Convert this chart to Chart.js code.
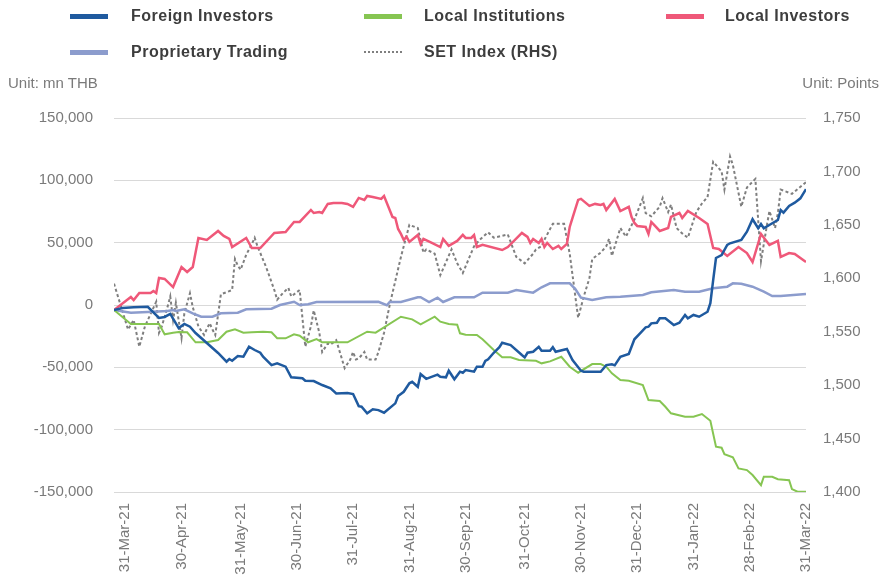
<!DOCTYPE html>
<html>
<head>
<meta charset="utf-8">
<script src="https://cdn.jsdelivr.net/npm/chart.js@4"></script>
<style>
  html, body { margin: 0; padding: 0; background: #ffffff; }
  #wrap { position: relative; width: 891px; height: 585px; overflow: hidden; }
  #c { position: absolute; left: 0; top: 0; }
  .sw { position: absolute; width: 38px; height: 5px; }
  .sw.dot { height: 0; border-top: 2px dotted #7f7f7f; }
  .lt { position: absolute; font-family: "Liberation Sans", Arial, sans-serif; font-weight: bold;
        font-size: 16px; letter-spacing: 0.5px; color: #3d3d3d; line-height: 20px; white-space: nowrap; }
  .unit { position: absolute; font-family: "Liberation Sans", Arial, sans-serif; font-size: 15px;
          color: #7a7a7a; line-height: 18px; white-space: nowrap; }
</style>
</head>
<body>
<div id="wrap">
  <canvas id="c" width="891" height="585"></canvas>
  <div id="legend"></div>
  <div class="unit" style="left:8px; top:74px;">Unit: mn THB</div>
  <div class="unit" style="right:12px; top:74px;">Unit: Points</div>
</div>
<script>
// ---- x axis (trading-day index since 31-Mar-21) and tick labels ----
const tickDays = [4, 24, 45, 65, 85, 105, 125, 146, 166, 186, 206, 226, 246];
const tickLabels = ['31-Mar-21','30-Apr-21','31-May-21','30-Jun-21','31-Jul-21','31-Aug-21',
  '30-Sep-21','31-Oct-21','30-Nov-21','31-Dec-21','31-Jan-22','28-Feb-22','31-Mar-22'];

// ---- Foreign Investors (mn THB, cumulative) ----
const foreignDays = [0,3,7,12,16,18,20,23,25,27,29,33,37,40,41,42,44,46,48,50,52,53,56,58,61,63,67,68,71,74,77,79,83,85,87,88,90,92,94,96,100,101,103,105,106,108,109,111,115,116,118,119,121,123,124,125,128,129,131,132,133,135,137,138,141,145,146,147,149,151,152,155,156,157,161,163,166,167,173,175,177,178,180,183,185,187,189,190,191,193,194,196,199,201,203,204,206,208,211,212,213,214,216,218,219,223,225,227,229,230,231,234,236,237,238,240,242,244,246];
const foreignVals = [-4000,-2400,-1800,-1400,-10400,-9600,-7200,-18500,-15200,-17400,-22500,-30500,-38500,-45500,-43300,-44700,-40900,-41500,-33500,-36100,-38300,-41500,-48200,-46800,-49500,-58000,-58800,-60800,-61000,-64200,-66900,-70900,-70600,-71400,-81100,-81600,-86900,-83700,-84300,-86400,-78900,-73000,-69600,-62800,-61600,-65600,-55400,-59200,-55900,-57500,-58000,-52700,-59600,-53500,-54300,-52200,-53500,-49500,-49500,-44900,-43600,-38300,-33900,-30300,-32100,-40100,-42000,-38300,-37500,-33500,-36700,-36700,-33900,-37500,-35300,-44100,-52700,-53500,-53500,-48200,-47600,-48400,-41500,-39300,-27500,-22700,-17900,-17400,-14700,-14200,-10700,-10700,-16100,-14200,-8000,-10700,-8000,-9400,-5400,1400,20000,37700,40100,48200,49500,52200,58800,68800,61600,65000,61600,65600,68200,76200,74100,79500,82100,85600,92900];

// ---- Local Institutions ----
const instDays = [0,6,16,18,21,23,26,29,33,37,40,43,46,49,53,56,58,61,64,66,69,72,74,80,83,90,93,102,106,109,114,116,119,122,123,125,129,131,135,138,141,144,150,152,155,159,162,165,170,173,175,177,180,183,188,190,194,196,198,203,206,209,212,214,216,217,220,222,225,227,230,231,234,236,240,241,243,246];
const instVals = [-4000,-15200,-15200,-23500,-22200,-21700,-21900,-29900,-29900,-28100,-21400,-19500,-22200,-21900,-21400,-21900,-26700,-26700,-23500,-24600,-29900,-27300,-29900,-29900,-29900,-21400,-22200,-9400,-11500,-15500,-9400,-13400,-15200,-15800,-22700,-23800,-24100,-27500,-36100,-42000,-42000,-44100,-44700,-46800,-45200,-41500,-49500,-54300,-47400,-47400,-49500,-54800,-60200,-60800,-64200,-76200,-77000,-81600,-86900,-89600,-89600,-87500,-92900,-113700,-114500,-119600,-122200,-131100,-132400,-136400,-144500,-137800,-137800,-139700,-140500,-147700,-149800,-149800];

// ---- Local Investors ----
const localDays = [0,6,7,9,13,14,15,16,18,21,24,26,28,30,33,37,39,41,42,47,49,52,57,61,64,66,70,71,73,74,76,78,81,83,85,87,89,90,92,95,96,99,100,101,102,103,104,105,108,109,110,113,116,117,119,122,124,125,127,128,129,131,138,140,145,147,148,149,151,152,153,154,156,158,159,161,162,163,165,166,169,171,173,174,175,178,180,183,184,185,186,189,190,191,192,194,197,198,201,202,204,208,211,213,215,218,222,225,227,230,233,236,237,240,242,246];
const localVals = [-4000,6400,4000,9600,9600,11200,9600,21700,20900,14400,30500,26500,30500,53800,52200,59400,55400,53000,46500,53800,45700,45700,57800,58600,66600,66600,76200,73800,74600,73800,81100,81900,81900,81100,78700,85900,84300,87500,86700,85100,87500,70600,69800,61000,57000,52200,54600,50600,56200,49000,53000,49800,46500,53000,47400,51400,56200,53800,53800,56200,46500,48200,44100,46500,57800,54600,49800,53000,49800,53000,46500,49800,44900,47400,44900,49000,62600,69800,84300,85100,79500,81100,80300,81100,76200,85100,75400,78700,70600,65800,63400,62600,57000,66600,64200,59400,61800,70600,73800,69800,75400,69800,65000,45700,44900,39300,46500,41700,34500,57000,48200,51400,38500,41700,40900,34500];

// ---- Proprietary Trading ----
const propDays = [0,6,12,19,21,22,25,28,31,35,38,44,47,56,59,64,66,69,72,94,97,98,102,108,109,112,115,117,121,128,131,140,143,149,152,155,162,164,166,170,175,180,188,191,199,203,208,213,218,220,223,227,231,234,237,246];
const propVals = [-4000,-6200,-5600,-4800,-4000,-4800,-3500,-6700,-9400,-9400,-6700,-6200,-3500,-3000,0,2600,0,600,2400,2600,-200,2400,2400,6200,6200,2400,5900,2400,6200,6200,9900,9900,12000,9900,14200,17400,17400,12800,5900,4000,6200,6700,8000,10200,12000,10700,10700,13400,14700,17400,17100,14700,10700,7200,7200,8800];

// ---- SET Index (points, right axis) ----
const setDays = [0,5,7,9,11,15,16,17,19,20,21,22,24,25,27,28,30,32,34,35,36,38,42,43,44,45,47,49,50,51,54,57,58,60,62,63,66,68,70,71,73,74,76,77,79,82,84,85,86,87,89,90,93,94,96,98,102,105,108,110,111,114,116,120,122,124,128,130,133,135,140,143,146,149,150,152,153,156,160,162,165,167,169,170,173,175,176,177,180,182,185,188,189,191,194,195,197,198,200,202,204,207,209,211,213,216,217,219,220,223,225,228,230,232,233,235,236,237,241,246];
const setVals = [1595,1552,1561,1536,1555,1578,1549,1555,1573,1583,1561,1577,1544,1567,1586,1573,1555,1547,1558,1552,1547,1585,1589,1618,1612,1608,1622,1632,1638,1630,1611,1589,1580,1586,1591,1583,1589,1536,1555,1570,1549,1531,1539,1538,1542,1516,1524,1531,1524,1525,1531,1524,1524,1531,1549,1575,1620,1650,1647,1624,1627,1623,1603,1627,1614,1605,1630,1636,1643,1638,1641,1620,1614,1623,1627,1630,1636,1651,1651,1623,1563,1583,1600,1618,1624,1630,1637,1621,1647,1639,1655,1675,1661,1658,1667,1675,1662,1669,1647,1642,1638,1662,1670,1676,1709,1700,1683,1714,1706,1667,1685,1693,1616,1648,1663,1647,1661,1683,1679,1690];

const leftTicks = [-150000, -100000, -50000, 0, 50000, 100000, 150000];
const rightTicks = [1400, 1450, 1500, 1550, 1600, 1650, 1700, 1750];

const series = [
  { label: 'Foreign Investors', days: foreignDays, vals: foreignVals, color: '#1f5a9f', width: 2.5, axis: 'y' },
  { label: 'Local Institutions', days: instDays, vals: instVals, color: '#86c552', width: 2, axis: 'y' },
  { label: 'Local Investors', days: localDays, vals: localVals, color: '#ef5879', width: 2.5, axis: 'y' },
  { label: 'Proprietary Trading', days: propDays, vals: propVals, color: '#8c9ccd', width: 2.5, axis: 'y' },
  { label: 'SET Index (RHS)', days: setDays, vals: setVals, color: '#7f7f7f', width: 2, axis: 'y1', dash: [3, 2.5] }
];

// ---- HTML legend ----
const legendPos = [
  { sw: 70, tx: 131, y: 16 }, { sw: 364, tx: 424, y: 16 }, { sw: 666, tx: 725, y: 16 },
  { sw: 70, tx: 131, y: 52 }, { sw: 364, tx: 424, y: 52 }
];
const legend = document.getElementById('legend');
series.forEach((s, i) => {
  const p = legendPos[i];
  const sw = document.createElement('div');
  sw.className = 'sw' + (s.dash ? ' dot' : '');
  sw.style.left = p.sw + 'px';
  if (s.dash) { sw.style.top = (p.y - 1) + 'px'; }
  else { sw.style.top = (p.y - 2) + 'px'; sw.style.background = s.color; }
  legend.appendChild(sw);
  const t = document.createElement('div');
  t.className = 'lt';
  t.style.left = p.tx + 'px';
  t.style.top = (p.y - 10) + 'px';
  t.textContent = s.label;
  legend.appendChild(t);
});

const fmt = v => v.toLocaleString('en-US');
const tickFont = { family: "'Liberation Sans', Arial, sans-serif", size: 15 };
const tickColor = '#7a7a7a';

new Chart(document.getElementById('c'), {
  type: 'line',
  data: {
    datasets: series.map((s, i) => ({
      label: s.label,
      data: s.days.map((d, k) => ({ x: d, y: s.vals[k] })),
      borderColor: s.color,
      backgroundColor: s.color,
      borderWidth: s.width,
      borderDash: s.dash || [],
      pointRadius: 0,
      tension: 0,
      fill: false,
      yAxisID: s.axis,
      order: s.dash ? 10 : i
    }))
  },
  options: {
    responsive: false,
    animation: false,
    devicePixelRatio: 1,
    layout: { padding: { top: 118, left: 0, right: 0, bottom: 0 } },
    plugins: { legend: { display: false }, tooltip: { enabled: false } },
    scales: {
      x: {
        type: 'linear',
        min: 0, max: 246,
        afterBuildTicks: sc => { sc.ticks = tickDays.map(v => ({ value: v })); },
        afterFit: sc => { sc.height = 93; },
        grid: { display: false, drawTicks: false },
        border: { display: false },
        ticks: {
          autoSkip: false, maxRotation: 90, minRotation: 90, padding: 11,
          color: tickColor, font: tickFont,
          callback: (v, i) => tickLabels[i]
        }
      },
      y: {
        position: 'left',
        min: -150000, max: 150000,
        afterBuildTicks: sc => { sc.ticks = leftTicks.map(v => ({ value: v })); },
        afterFit: sc => { sc.width = 114; },
        grid: { color: '#d9d9d9', lineWidth: 1, drawTicks: false },
        border: { display: false },
        ticks: { padding: 21, color: tickColor, font: tickFont, callback: v => fmt(v) }
      },
      y1: {
        position: 'right',
        min: 1400, max: 1750,
        afterBuildTicks: sc => { sc.ticks = rightTicks.map(v => ({ value: v })); },
        afterFit: sc => { sc.width = 85; },
        grid: { display: false, drawTicks: false },
        border: { display: false },
        ticks: { padding: 17, color: tickColor, font: tickFont, callback: v => fmt(v) }
      }
    }
  }
});
</script>
</body>
</html>
